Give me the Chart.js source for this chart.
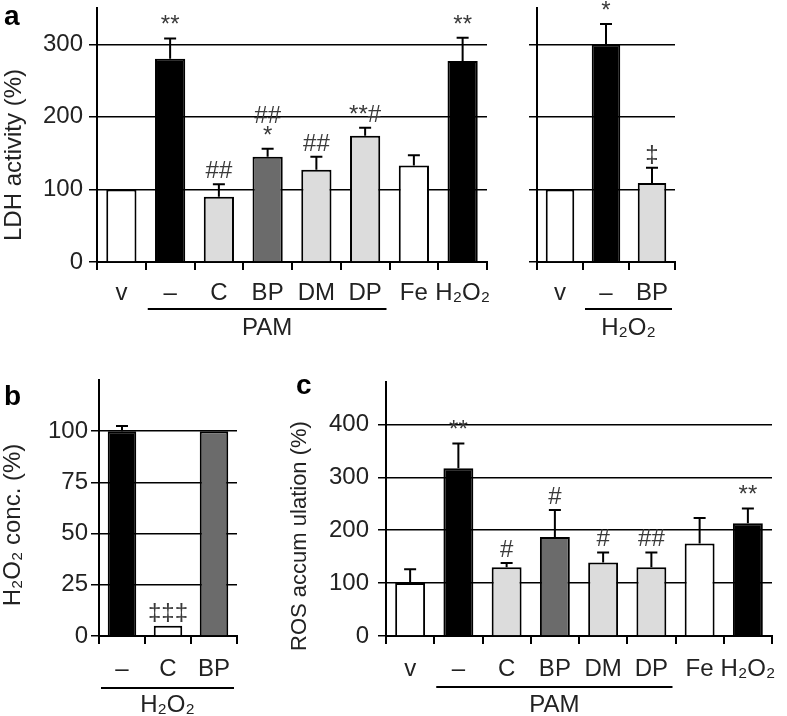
<!DOCTYPE html>
<html>
<head>
<meta charset="utf-8">
<script src="https://cdn.jsdelivr.net/npm/chart.js@4/dist/chart.umd.min.js"></script>
<style>
body { margin: 0; background: #fff; width: 787px; height: 716px; position: relative; overflow: hidden; }
canvas { position: absolute; }
</style>
</head>
<body>
<canvas id="a1" width="500" height="340" style="left:0;top:0"></canvas>
<canvas id="a2" width="200" height="340" style="left:500px;top:0"></canvas>
<canvas id="b" width="260" height="356" style="left:0;top:360px"></canvas>
<canvas id="c" width="527" height="356" style="left:260px;top:360px"></canvas>
<script>
// panel a (left): LDH activity
const pamLabels = ['v', '–', 'C', 'BP', 'DM', 'DP', 'Fe', 'H₂O₂'];
const ldhValues = [100, 280, 90, 145, 127, 174, 133, 277];
const ldhErrors = [0, 28, 17, 11, 18, 11, 14, 32];
const ldhMarks = ['', '**', '##', '##\n*', '##', '**#', '', '**'];

// panel a (right): LDH with H2O2
const h2o2Labels = ['v', '–', 'BP'];
const ldhH2o2Values = [100, 300, 109];
const ldhH2o2Errors = [0, 28, 21];
const ldhH2o2Marks = ['', '*', '‡'];

// panel b: H2O2 concentration
const concLabels = ['–', 'C', 'BP'];
const concValues = [100, 5, 100];
const concErrors = [2.5, 0, 0];
const concMarks = ['', '‡‡‡', ''];

// panel c: ROS accumulation
const rosValues = [100, 317, 130, 187, 139, 130, 175, 213];
const rosErrors = [26, 47, 8, 51, 19, 28, 48, 28];
const rosMarks = ['', '**', '#', '#', '#', '##', '', '**'];

const ticksA = [0, 100, 200, 300];
const ticksB = [0, 25, 50, 75, 100];
const ticksC = [0, 100, 200, 300, 400];

const W = '#ffffff', K = '#000000', L = '#dcdcdc', D = '#6b6b6b';
const pamColors = [W, K, L, D, L, L, W, K];

Chart.defaults.font.family = "'Liberation Sans', Arial, sans-serif";
Chart.defaults.color = '#222';

const extras = {
    id: 'extras',
    afterDatasetsDraw(chart, args, o) {
        const ctx = chart.ctx;
        const x = chart.scales.x, y = chart.scales.y;
        const meta = chart.getDatasetMeta(0);
        const vals = chart.data.datasets[0].data;
        ctx.save();
        ctx.strokeStyle = '#000';
        ctx.lineWidth = 2;
        meta.data.forEach((bar, i) => {
            const top = y.getPixelForValue(vals[i] + o.errors[i]);
            if (o.errors[i] > 0) {
                ctx.beginPath();
                ctx.moveTo(bar.x, bar.y);
                ctx.lineTo(bar.x, top);
                ctx.moveTo(bar.x - 6, top);
                ctx.lineTo(bar.x + 6, top);
                ctx.stroke();
            }
            if (o.marks[i]) {
                ctx.font = "24px 'Liberation Sans', Arial, sans-serif";
                ctx.fillStyle = '#3a3a3a';
                ctx.textAlign = 'center';
                ctx.textBaseline = 'alphabetic';
                o.marks[i].split('\n').reverse().forEach((t, k) => {
                    ctx.fillText(t, bar.x, top - 6 - k * 20);
                });
            }
        });

        // group underline + label
        const g = o.group;
        const half = (x.getPixelForValue(1) - x.getPixelForValue(0)) / 2;
        const x0 = x.getPixelForValue(g.from) - half + 2;
        const x1 = x.getPixelForValue(g.to) + half - 3;
        const base = chart.chartArea.bottom;
        ctx.beginPath();
        ctx.moveTo(x0, base + g.line);
        ctx.lineTo(x1, base + g.line);
        ctx.stroke();
        ctx.font = "24px 'Liberation Sans', Arial, sans-serif";
        ctx.fillStyle = '#222';
        ctx.textAlign = 'center';
        ctx.fillText(g.text, (x0 + x1) / 2, base + g.text_y);

        // y axis title
        if (o.title) {
            ctx.save();
            ctx.translate(o.title.x, o.title.y);
            ctx.rotate(-Math.PI / 2);
            ctx.font = o.title.size + "px 'Liberation Sans', Arial, sans-serif";
            ctx.textBaseline = 'middle';
            ctx.fillText(o.title.text, 0, 0);
            ctx.restore();
        }
        // panel letter
        if (o.panel) {
            ctx.font = "bold 28px 'Liberation Sans', Arial, sans-serif";
            ctx.fillStyle = '#000';
            ctx.textAlign = 'left';
            ctx.fillText(o.panel.text, o.panel.x, o.panel.y);
        }
        ctx.restore();
    }
};

function makeChart(id, p) {
    const canvas = document.getElementById(id);
    new Chart(canvas, {
        type: 'bar',
        data: {
            labels: p.labels,
            datasets: [{
                data: p.values,
                backgroundColor: p.colors,
                borderColor: '#000',
                borderWidth: 2,
                categoryPercentage: 1,
                barPercentage: 0.62
            }]
        },
        options: {
            responsive: false,
            animation: false,
            devicePixelRatio: 1,
            layout: { padding: { top: p.box.top, right: canvas.width - p.box.right, left: 0, bottom: 0 } },
            plugins: {
                legend: { display: false },
                tooltip: { enabled: false },
                extras: p.extras
            },
            scales: {
                x: {
                    grid: { drawOnChartArea: false, drawTicks: true, tickLength: 8, color: '#000', lineWidth: 2 },
                    border: { display: true, color: '#000', width: 2 },
                    ticks: { font: { size: 24 }, padding: p.xPad, autoSkip: false, maxRotation: 0, color: '#222' },
                    afterFit: s => { s.height = canvas.height - p.box.bottom; s.paddingLeft = 0; s.paddingRight = 0; }
                },
                y: {
                    min: 0,
                    max: p.yMax,
                    afterBuildTicks: s => { s.ticks = p.yTicks.map(v => ({ value: v })); },
                    grid: { color: '#000', lineWidth: 1.5, tickLength: 8, drawTicks: true },
                    border: { display: true, color: '#000', width: 2 },
                    ticks: {
                        font: { size: 24 },
                        padding: p.yPad,
                        color: '#222',
                        callback: v => p.showY ? v : ''
                    },
                    afterFit: s => { s.width = p.box.left; s.paddingTop = 0; s.paddingBottom = 0; }
                }
            }
        },
        plugins: [extras]
    });
}

makeChart('a1', {
    labels: pamLabels, values: ldhValues, colors: pamColors,
    yMax: 350, yTicks: ticksA, showY: true, yPad: 6, xPad: 9,
    box: { left: 97, right: 487, top: 8, bottom: 262 },
    extras: {
        errors: ldhErrors, marks: ldhMarks,
        group: { text: 'PAM', from: 1, to: 5, line: 47, text_y: 73 },
        title: { text: 'LDH activity (%)', x: 14, y: 155, size: 24 },
        panel: { text: 'a', x: 4, y: 25 }
    }
});

makeChart('a2', {
    labels: h2o2Labels, values: ldhH2o2Values, colors: [W, K, L],
    yMax: 350, yTicks: ticksA, showY: false, yPad: 6, xPad: 9,
    box: { left: 37, right: 175, top: 8, bottom: 262 },
    extras: {
        errors: ldhH2o2Errors, marks: ldhH2o2Marks,
        group: { text: 'H₂O₂', from: 1, to: 2, line: 47, text_y: 73 }
    }
});

makeChart('b', {
    labels: concLabels, values: concValues, colors: [K, W, D],
    yMax: 125, yTicks: ticksB, showY: true, yPad: 3, xPad: 11,
    box: { left: 99, right: 237, top: 20, bottom: 276 },
    extras: {
        errors: concErrors, marks: concMarks,
        group: { text: 'H₂O₂', from: 0, to: 2, line: 52, text_y: 76 },
        title: { text: 'H₂O₂ conc. (%)', x: 13, y: 165, size: 24 },
        panel: { text: 'b', x: 4, y: 45 }
    }
});

makeChart('c', {
    labels: pamLabels, values: rosValues, colors: pamColors,
    yMax: 480, yTicks: ticksC, showY: true, yPad: 9, xPad: 11,
    box: { left: 126, right: 512, top: 22, bottom: 276 },
    extras: {
        errors: rosErrors, marks: rosMarks,
        group: { text: 'PAM', from: 1, to: 5, line: 51, text_y: 76 },
        title: { text: 'ROS accum ulation (%)', x: 40, y: 176, size: 22 },
        panel: { text: 'c', x: 36, y: 34 }
    }
});
</script>
</body>
</html>
